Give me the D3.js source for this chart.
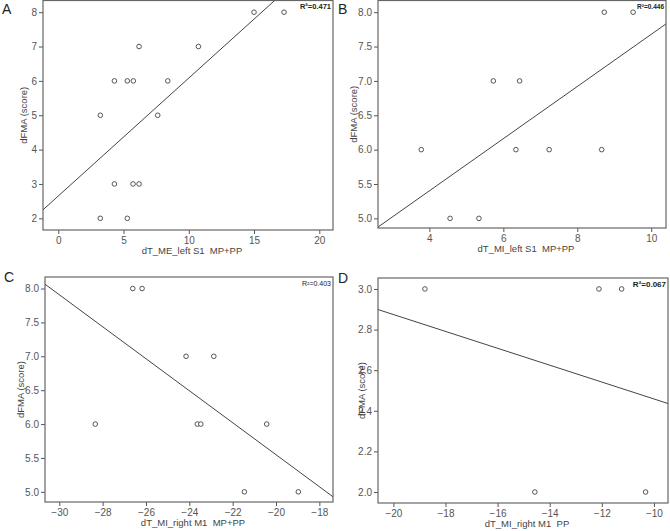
<!DOCTYPE html>
<html>
<head>
<meta charset="utf-8">
<script src="https://cdnjs.cloudflare.com/ajax/libs/d3/7.8.5/d3.min.js"></script>
<style>
  body { margin: 0; background: #fff; }
  svg text { font-family: "Liberation Sans", Arial, sans-serif; }
</style>
</head>
<body>
<div id="chart-area"></div>
<script>
// ---- data ----
// A
const aX = [15.0, 17.3, 6.19, 10.74, 4.30, 5.29, 5.75, 8.39, 3.22, 7.62, 4.30, 5.73, 6.19, 3.22, 5.29]
const aY = [8, 8, 7, 7, 6, 6, 6, 6, 5, 5, 3, 3, 3, 2, 2]
const aXTicks = [0, 5, 10, 15, 20]
const aYTicks = [2, 3, 4, 5, 6, 7, 8]
const aXRange = [-1.17, 21.05]
const aYRange = [1.66, 8.34]
// B
const bX = [8.73, 9.51, 5.73, 6.44, 3.78, 6.34, 7.24, 8.66, 4.56, 5.34]
const bY = [8, 8, 7, 7, 6, 6, 6, 6, 5, 5]
const bXTicks = [4, 6, 8, 10]
const bYTicks = [5.0, 5.5, 6.0, 6.5, 7.0, 7.5, 8.0]
const bXRange = [2.61, 10.4]
const bYRange = [4.86, 8.17]
// C
const cX = [-26.61, -26.18, -24.15, -22.87, -28.34, -23.63, -23.47, -20.43, -21.46, -18.97]
const cY = [8, 8, 7, 7, 6, 6, 6, 6, 5, 5]
const cXTicks = [-30, -28, -26, -24, -22, -20, -18]
const cYTicks = [5.0, 5.5, 6.0, 6.5, 7.0, 7.5, 8.0]
const cXRange = [-30.66, -17.37]
const cYRange = [4.85, 8.17]
// D
const dX = [-18.79, -12.11, -11.24, -14.57, -10.32]
const dY = [3, 3, 3, 2, 2]
const dXTicks = [-20, -18, -16, -14, -12, -10]
const dYTicks = [2.0, 2.2, 2.4, 2.6, 2.8, 3.0]
const dXRange = [-20.59, -9.46]
const dYRange = [1.946, 3.054]

const letters = ["A", "B", "C", "D"]
const xTitles = ["dT_ME_left S1  MP+PP", "dT_MI_left S1  MP+PP", "dT_MI_right M1  MP+PP", "dT_MI_right M1  PP"]
const rSquared = ["R²=0.471", "R²=0.446", "R²=0.403", "R²=0.067"]

const svg = d3.select("#chart-area").append("svg")
  .attr("width", 670)
  .attr("height", 531)

// layout of each panel box (pixels) + text styles
const panels = [
  { xs: aX, ys: aY, xTicks: aXTicks, yTicks: aYTicks, xDom: aXRange, yDom: aYRange, xf: "d", yf: "d",
    left: 43, top: 0.5, right: 333, bottom: 230, rSize: 7.5, rWeight: "bold", yTitleX: 27, letterY: 14 },
  { xs: bX, ys: bY, xTicks: bXTicks, yTicks: bYTicks, xDom: bXRange, yDom: bYRange, xf: "d", yf: ".1f",
    left: 378, top: 0.5, right: 666, bottom: 228, rSize: 6.5, rWeight: "bold", yTitleX: 357, letterY: 14 },
  { xs: cX, ys: cY, xTicks: cXTicks, yTicks: cYTicks, xDom: cXRange, yDom: cYRange, xf: "d", yf: ".1f",
    left: 45, top: 277, right: 333, bottom: 502, rSize: 7, rWeight: "normal", yTitleX: 24, letterY: 282 },
  { xs: dX, ys: dY, xTicks: dXTicks, yTicks: dYTicks, xDom: dXRange, yDom: dYRange, xf: "d", yf: ".1f",
    left: 378, top: 278, right: 668, bottom: 503, rSize: 8, rWeight: "bold", yTitleX: 365, letterY: 283 }
]

panels.forEach((p, i) => drawPanel(p, i))

function drawPanel(p, i) {
  const x = d3.scaleLinear().domain(p.xDom).range([p.left, p.right])
  const y = d3.scaleLinear().domain(p.yDom).range([p.bottom, p.top])
  const g = svg.append("g")

  g.append("clipPath").attr("id", "clip" + i)
    .append("rect")
    .attr("x", p.left).attr("y", p.top)
    .attr("width", p.right - p.left).attr("height", p.bottom - p.top)

  // axes
  const xAxis = g.append("g")
    .attr("transform", `translate(0, ${p.bottom})`)
    .call(d3.axisBottom(x).tickValues(p.xTicks).tickSize(4).tickPadding(3)
      .tickSizeOuter(0).tickFormat(d3.format(p.xf)))
  const yAxis = g.append("g")
    .attr("transform", `translate(${p.left}, 0)`)
    .call(d3.axisLeft(y).tickValues(p.yTicks).tickSize(4).tickPadding(2)
      .tickSizeOuter(0).tickFormat(d3.format(p.yf)))
  ;[xAxis, yAxis].forEach(a => {
    a.select(".domain").remove()
    a.selectAll("line").attr("stroke", "#555")
    a.selectAll("text").attr("fill", "#555").attr("font-size", "10px")
      .attr("font-family", "'Liberation Sans', Arial, sans-serif")
  })

  // frame
  g.append("rect")
    .attr("x", p.left).attr("y", p.top)
    .attr("width", p.right - p.left).attr("height", p.bottom - p.top)
    .attr("fill", "none")
    .attr("stroke", "#666")
    .attr("stroke-width", 1.2)

  // least squares fit line
  const pts = p.xs.map((v, k) => ({ x: v, y: p.ys[k] }))
  const mx = d3.mean(pts, d => d.x)
  const my = d3.mean(pts, d => d.y)
  const slope = d3.sum(pts, d => (d.x - mx) * (d.y - my)) / d3.sum(pts, d => (d.x - mx) ** 2)
  const icpt = my - slope * mx
  g.append("line")
    .attr("clip-path", `url(#clip${i})`)
    .attr("x1", x(p.xDom[0])).attr("y1", y(icpt + slope * p.xDom[0]))
    .attr("x2", x(p.xDom[1])).attr("y2", y(icpt + slope * p.xDom[1]))
    .attr("stroke", "#444")
    .attr("stroke-width", 1)

  // points
  g.selectAll("circle").data(pts).enter().append("circle")
    .attr("cx", d => x(d.x))
    .attr("cy", d => y(d.y))
    .attr("r", 2.3)
    .attr("fill", "#fff")
    .attr("stroke", "#555")
    .attr("stroke-width", 1)

  // R² label
  g.append("text")
    .attr("x", p.right - 2)
    .attr("y", p.top + 8.5)
    .attr("text-anchor", "end")
    .attr("font-size", p.rSize + "px")
    .attr("font-weight", p.rWeight)
    .attr("fill", "#222")
    .text(rSquared[i])

  // axis titles
  g.append("text")
    .attr("x", (p.left + p.right) / 2 + 4)
    .attr("y", p.bottom + 24)
    .attr("text-anchor", "middle")
    .attr("font-size", "9.5px")
    .attr("fill", "#444")
    .style("white-space", "pre")
    .text(xTitles[i])
  g.append("text")
    .attr("transform", `translate(${p.yTitleX}, ${(p.top + p.bottom) / 2}) rotate(-90)`)
    .attr("text-anchor", "middle")
    .attr("font-size", "9.5px")
    .attr("fill", "#444")
    .text("dFMA (score)")

  // panel letter
  g.append("text")
    .attr("x", p.left - (i % 2 === 0 ? 41 : 40))
    .attr("y", p.letterY)
    .attr("font-size", "14px")
    .attr("fill", "#222")
    .text(letters[i])
}
</script>
</body>
</html>
